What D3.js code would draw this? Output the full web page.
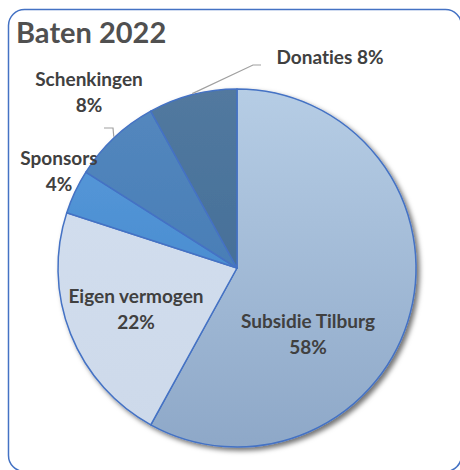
<!DOCTYPE html>
<html>
<head>
<meta charset="utf-8">
<script src="https://cdn.jsdelivr.net/npm/d3@7"></script>
<style>
  body { margin: 0; background: #fff; }
  text { font-family: Lato, "Open Sans", sans-serif; font-weight: bold; font-variant-ligatures: none; }
</style>
</head>
<body>
<div id="chart"></div>
<script>
// data
const categories = ["Subsidie Tilburg", "Eigen vermogen", "Sponsors", "Schenkingen", "Donaties"];
const values = [58, 22, 4, 8, 8];
const labelLines = [["Subsidie Tilburg", "58%"], ["Eigen vermogen", "22%"], ["Sponsors", "4%"], ["Schenkingen", "8%"], ["Donaties 8%"]];

// colours (top, bottom of gradient)
const topColors = ["#b6cde5", "#d3dfef", "#5a9cdc", "#5488bf", "#52799f"];
const bottomColors = ["#8ea8c8", "#cdd9ea", "#3d80c6", "#3f74ad", "#3a6793"];

// label placement relative to pie centre
const labelOffsets = [[71, 60], [-101, 35], [-178, -103], [-148, -182], [93, -204]];
const leaderBends = [null, null, null, [[-124, -140], [-133, -140]], [[16, -203], [24, -203]]];

const W = 460, H = 470;
const cx = 237, cy = 268, r = 179;

const svg = d3.select("#chart").append("svg")
    .attr("width", W)
    .attr("height", H);

const defs = svg.append("defs");

const shadow = defs.append("filter")
    .attr("id", "shadow")
    .attr("x", "-10%").attr("y", "-10%")
    .attr("width", "130%").attr("height", "130%");
shadow.append("feDropShadow")
    .attr("dx", 3).attr("dy", 3)
    .attr("stdDeviation", 2.5)
    .attr("flood-color", "#000")
    .attr("flood-opacity", 0.55);

categories.forEach(function(c, i) {
  const g = defs.append("linearGradient")
      .attr("id", "grad" + i)
      .attr("gradientUnits", "userSpaceOnUse")
      .attr("x1", 0).attr("y1", -r)
      .attr("x2", 0).attr("y2", r);
  g.append("stop").attr("offset", "0%").attr("stop-color", topColors[i]);
  g.append("stop").attr("offset", "100%").attr("stop-color", bottomColors[i]);
});

// outer frame
svg.append("rect")
    .attr("x", 8.5).attr("y", 9.5)
    .attr("width", 453).attr("height", 462)
    .attr("rx", 16)
    .attr("fill", "none")
    .attr("stroke", "#4472c4")
    .attr("stroke-width", 1.5);

// title
svg.append("text")
    .attr("x", 16)
    .attr("y", 43)
    .text("Baten 2022")
    .style("font-size", "29px")
    .style("fill", "#505050");

const pie = d3.pie().sort(null).value(d => d);
const arcs = pie(values);
const arc = d3.arc().innerRadius(0).outerRadius(r);

const g = svg.append("g")
    .attr("transform", "translate(" + cx + "," + cy + ")");

g.append("g")
    .attr("filter", "url(#shadow)")
  .selectAll("path")
  .data(arcs)
  .enter().append("path")
    .attr("d", arc)
    .attr("fill", (d, i) => "url(#grad" + i + ")")
    .attr("stroke", "#4472c4")
    .attr("stroke-width", 1.5)
    .attr("stroke-linejoin", "round");

// leader lines
arcs.forEach(function(d, i) {
  if (!leaderBends[i]) return;
  const a = (d.startAngle + d.endAngle) / 2;
  const start = [Math.sin(a) * (r + 1), -Math.cos(a) * (r + 1)];
  g.append("polyline")
      .attr("points", [start].concat(leaderBends[i]).map(p => p.join(",")).join(" "))
      .attr("fill", "none")
      .attr("stroke", "#a0a0a0")
      .attr("stroke-width", 1.2);
});

// labels
labelLines.forEach(function(lines, i) {
  const t = g.append("text")
      .attr("text-anchor", "middle")
      .attr("x", labelOffsets[i][0])
      .attr("y", labelOffsets[i][1])
      .style("font-size", "19px")
      .style("fill", "#404040");
  lines.forEach(function(s, j) {
    t.append("tspan")
        .attr("x", labelOffsets[i][0])
        .attr("dy", j === 0 ? 0 : 26)
        .text(s);
  });
});
</script>
</body>
</html>
